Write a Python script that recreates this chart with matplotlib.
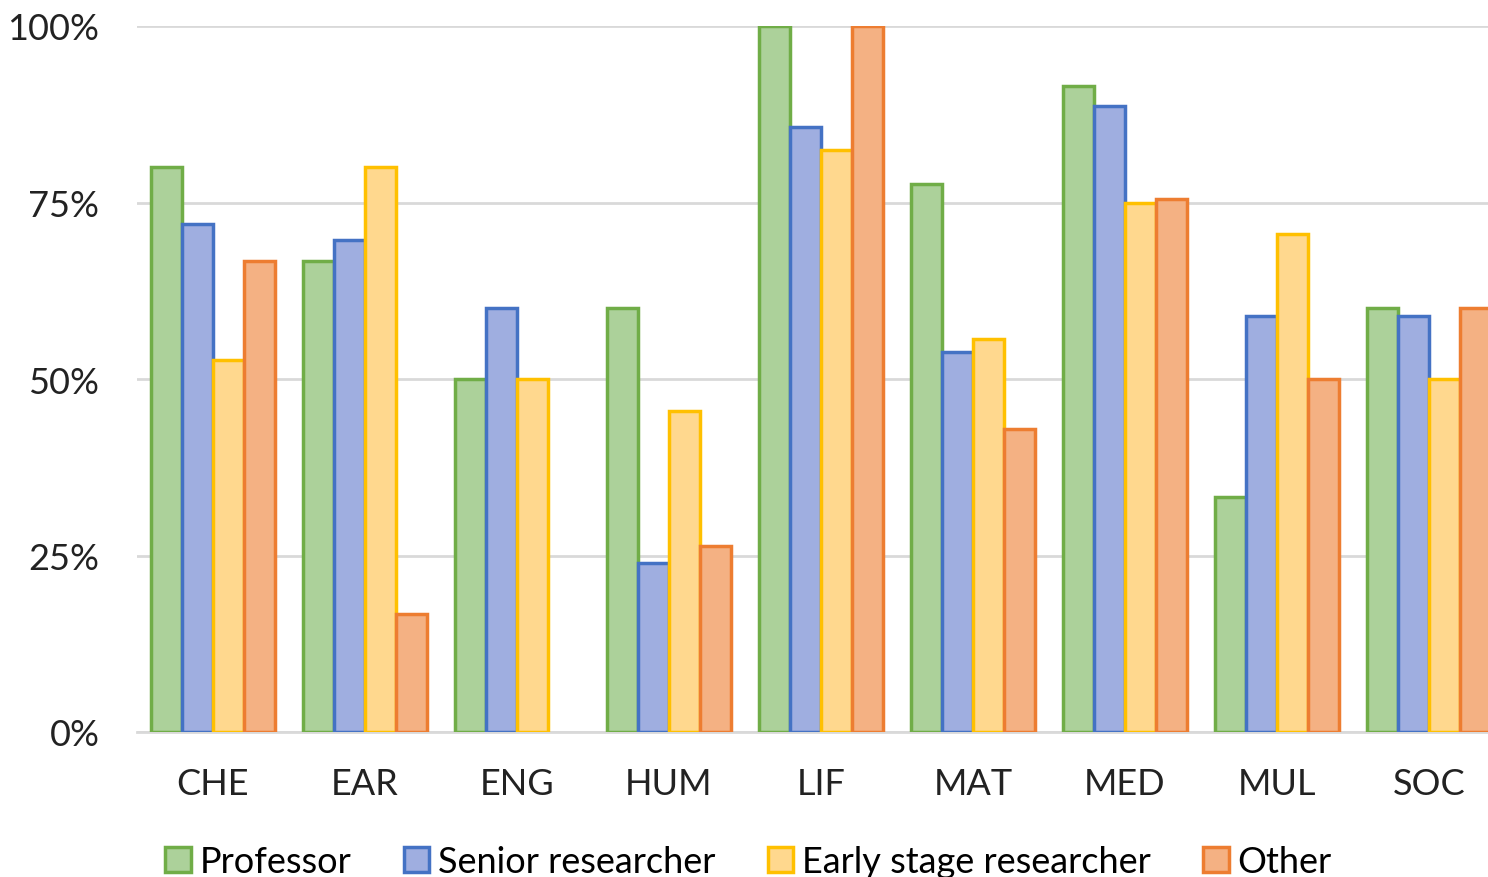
import matplotlib
matplotlib.use("Agg")
import matplotlib.pyplot as plt
from matplotlib.ticker import PercentFormatter
import numpy as np

plt.rcParams['font.family'] = ['Lato', 'DejaVu Sans']

categories = ["CHE", "EAR", "ENG", "HUM", "LIF", "MAT", "MED", "MUL", "SOC"]
series = ["Professor", "Senior researcher", "Early stage researcher", "Other"]

professor = [80.0, 66.7, 50.0, 60.0, 100.0, 77.6, 91.5, 33.3, 60.0]
senior = [72.0, 69.7, 60.0, 23.9, 85.7, 53.8, 88.7, 58.9, 58.9]
early = [52.7, 80.0, 50.0, 45.5, 82.4, 55.7, 75.0, 70.5, 50.0]
other = [66.7, 16.7, 0.0, 26.3, 100.0, 42.9, 75.5, 50.0, 60.0]

values = [professor, senior, early, other]
fills = ["#ACD19A", "#9FAEE0", "#FFD88E", "#F4B183"]
edges = ["#70AD47", "#4472C4", "#FFC000", "#ED7D31"]

fig = plt.figure(figsize=(14.88, 8.78), dpi=100)
ax = fig.add_axes([137 / 1488, 145 / 878, 1 - 137 / 1488, 706 / 878])

x = np.arange(len(categories))
width = 0.204
for i, (vals, fc, ec, name) in enumerate(zip(values, fills, edges, series)):
    bars = ax.bar(x + (i - 1.5) * width, vals, width, color=fc, edgecolor=ec,
                  linewidth=2.5, label=name, zorder=3)
    # empty bars get no outline
    for b, v in zip(bars, vals):
        if v == 0:
            b.set_linewidth(0)

ax.set_ylim(0, 100)
ax.set_xlim(-0.5, (1488 - 137) / 152 - 0.5)
ax.set_yticks([0, 25, 50, 75, 100])
ax.yaxis.set_major_formatter(PercentFormatter(decimals=0))
ax.set_xticks(x)
ax.set_xticklabels(categories)
ax.grid(axis='y', color='#D9D9D9', linewidth=2, zorder=0)
ax.set_axisbelow(True)
for s in ['top', 'right', 'left']:
    ax.spines[s].set_visible(False)
ax.spines['bottom'].set_color('#D9D9D9')
ax.spines['bottom'].set_linewidth(2)
ax.tick_params(axis='both', length=0, labelsize=26, colors='#222222')
ax.tick_params(axis='x', pad=25)
ax.tick_params(axis='y', pad=27)

ax.legend(loc='upper left', bbox_to_anchor=(151 / 1488, 46 / 878),
          bbox_transform=fig.transFigure, ncol=4, frameon=False,
          fontsize=26, handlelength=0.7, handleheight=0.7,
          handletextpad=0.25, columnspacing=1.45, borderaxespad=0)

fig.savefig("out.png", dpi=100)
